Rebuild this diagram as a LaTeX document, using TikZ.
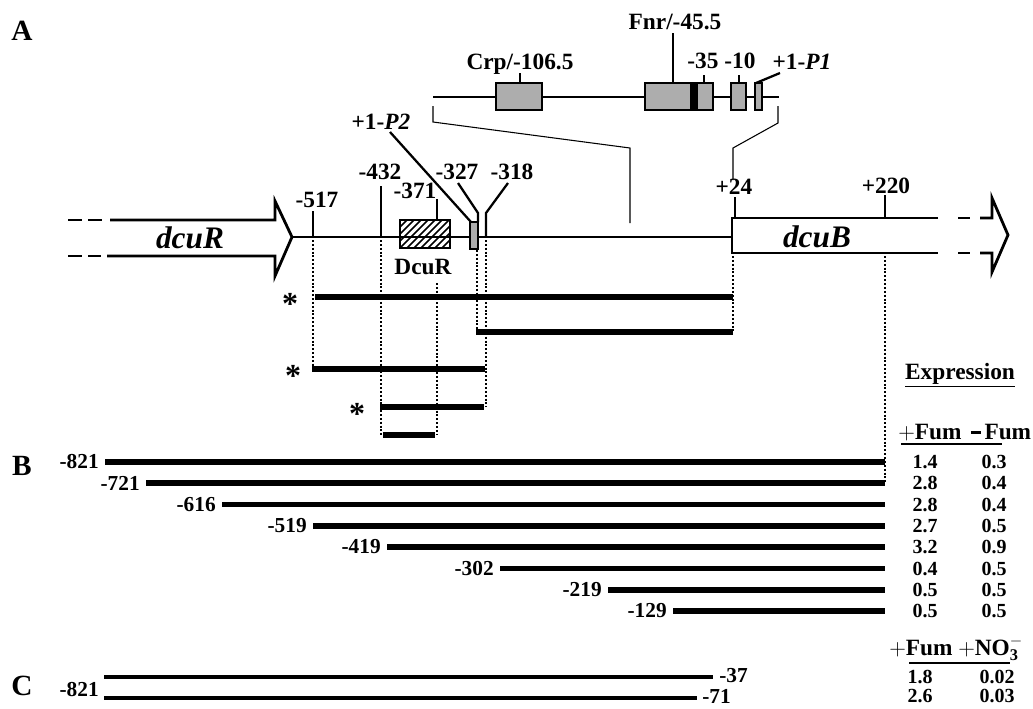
\documentclass[tikz,border=0pt]{standalone}
\usepackage{fontspec}
\setmainfont{Liberation Serif}
\begin{document}
\begin{tikzpicture}[x=0.75pt,y=-0.75pt,
  lbl/.style={font=\fontsize{17.5}{19}\selectfont\bfseries, inner sep=0pt},
  sml/.style={font=\fontsize{16}{18}\selectfont\bfseries, inner sep=0pt},
  val/.style={font=\fontsize{15}{17}\selectfont\bfseries, inner sep=0pt},
  genelbl/.style={font=\fontsize{23.5}{26}\selectfont\bfseries\itshape, inner sep=0pt},
  panel/.style={font=\fontsize{22}{24}\selectfont\bfseries, inner sep=0pt},
  star/.style={font=\fontsize{24}{26}\selectfont\bfseries, inner sep=0pt},
  dna/.style={line width=1.7pt},
  outl/.style={line width=2.1pt},
  tk/.style={line width=1.7pt},
  thinline/.style={line width=0.8pt},
  site/.style={draw, line width=2pt, fill=black!32},
  frag/.style={line width=3.9pt},
  fragB/.style={line width=4.4pt},
  fragC/.style={line width=3.3pt},
  dotline/.style={line width=1.7pt, dash pattern=on 1.5pt off 1.4pt},
]
\useasboundingbox (0,0) rectangle (1033,708);

% panel letters
\node[panel] (pA) at (22,31) {A};
\node[panel] (pB) at (22,466) {B};
\node[panel] (pC) at (22,686) {C};

% ---------- dcuR arrow ----------
\draw[outl] (68,220) -- (82,220) (88,220) -- (102,220);
\draw[outl] (68,256) -- (82,256) (88,256) -- (101,256);
\draw[outl,line join=miter] (110,220) -- (275,220) -- (275,201) -- (292,237) -- (275,276) -- (275,256) -- (107,256);
\coordinate (rTip) at (292,237);
\node[genelbl] (dcuR) at (190,238) {dcuR};

% ---------- dcuB ----------
\coordinate (bStart) at (732,237);
\draw[dna] (rTip) -- (bStart);
\draw[outl,line join=miter] (938,218) -- (732,218) -- (732,253) -- (938,253);
\draw[outl] (958,218) -- (970,218) (958,253) -- (970,253);
\draw[outl,line join=miter] (980,218) -- (992,218) -- (992,198) -- (1008,235) -- (992,272) -- (992,253) -- (980,253);
\node[genelbl] (dcuB) at (817,237) {dcuB};

% ticks on main map
\node[lbl] (l24) at (734,187) {+24};
\draw[tk] (735,218) -- (735,197);
\node[lbl] (l220) at (886,186) {+220};
\draw[tk] (885,218) -- (885,195);
\node[lbl] (l517) at (317,200) {-517};
\draw[tk] (313,237) -- (313,211);
\node[lbl] (l432) at (380,172) {-432};
\draw[tk] (381,237) -- (381,186);

% DcuR site (hatched)
\begin{scope}
  \clip (400,220) rectangle (450,248);
  \foreach \i in {372,379,...,452} \draw[line width=1.3pt] (\i,248) -- ++(28,-28);
\end{scope}
\draw[line width=2pt] (400,220) rectangle (450,248);
\draw[tk] (437,220) -- (437,199);
\node[lbl] (l371) at (415,191) {-371};
\node[lbl] (ldcur) at (423,267) {DcuR};

% P2 site
\draw[site] (470,222) rectangle (478,249);
\node[lbl] (lP2) at (381,122) {+1-\textit{P2}};
\coordinate (p2a) at (390,132);
\coordinate (p2b) at (471,222);
\draw[tk] (p2a) -- (p2b);
\node[lbl] (l327) at (457,172) {-327};
\draw[tk] (458,183) -- (478,213) -- (478,222);
\node[lbl] (l318) at (512,172) {-318};
\draw[tk] (508,183) -- (486,213) -- (486,237);

% ---------- inset ----------
\draw[line width=2.2pt] (433,97) -- (779,97);
\draw[site] (496,83) rectangle (542,110);
\draw[tk] (520,83) -- (520,73);
\node[lbl] (lcrp) at (520,64) {Crp/-106.5};
\draw[site] (645,83) rectangle (697,110);
\fill (690,83) rectangle (697,110);
\draw[site] (697,83) rectangle (713,110);
\draw[tk] (673,83) -- (673,33);
\node[lbl] (lfnr) at (675,22) {Fnr/-45.5};
\draw[tk] (704,83) -- (704,75);
\node[lbl] (l35) at (703,61) {-35};
\draw[site] (731,83) rectangle (746,110);
\draw[tk] (739,83) -- (739,75);
\node[lbl] (l10) at (740,61) {-10};
\draw[site] (755,83) rectangle (762,110);
\draw[tk] (756,83) -- (780,73);
\node[lbl] (lP1) at (802,62) {+1-\textit{P1}};

% inset connectors
\draw[thinline] (433,106) -- (433,122) -- (630,148) -- (630,223);
\draw[thinline] (778,106) -- (778,123) -- (733,148) -- (733,180);

% ---------- deletion fragments ----------
\node[star] (s1) at (290,304) {*};
\draw[frag] (315,297) -- (733,297);
\draw[frag] (476,332) -- (733,332);
\node[star] (s2) at (293,376) {*};
\draw[frag] (312,369) -- (485,369);
\node[star] (s3) at (357,414) {*};
\draw[frag] (380,407) -- (484,407);
\draw[frag] (383,435) -- (435,435);

% dotted guides
\draw[dotline] (313,240) -- (313,369);
\draw[dotline] (381,240) -- (381,435);
\draw[dotline] (437,283) -- (437,435);
\draw[dotline] (477,250) -- (477,332);
\draw[dotline] (486,240) -- (486,407);
\draw[dotline] (733,256) -- (733,332);
\draw[dotline] (885,256) -- (885,483);

% ---------- panel B ----------
\foreach \s/\y/\t [count=\k] in {105/462/-821, 146/483/-721, 222/504.5/-616, 313/526/-519, 387/547/-419, 500/568.5/-302, 608/590/-219, 673/611/-129} {
  \coordinate (bs\k) at (\s,\y);
  \coordinate (be\k) at (885,\y);
  \draw[fragB] (bs\k) -- (be\k);
  \node[sml, anchor=east] (bl\k) at ([xshift=-4.5]bs\k) {\t};
}

% table B
\node[lbl] (expr) at (960,375) {\underline{Expression}};
\node[lbl, anchor=base] (hf1) at (930,439) {$+$Fum};
\node[lbl, anchor=base] (hf2) at (1001,439) {\rule[0.22em]{0.42em}{0.13em}\,Fum};
\draw[thinline] (901,444) -- (1002,444);
\foreach \a/\b/\y [count=\k] in {1.4/0.3/462, 2.8/0.4/483, 2.8/0.4/504.5, 2.7/0.5/526, 3.2/0.9/547, 0.4/0.5/568.5, 0.5/0.5/590, 0.5/0.5/611} {
  \node[val] (va\k) at (925,\y) {\a};
  \node[val] (vb\k) at (994,\y) {\b};
}

% ---------- panel C ----------
\coordinate (cs1) at (104,677);
\coordinate (ce1) at (713,677);
\coordinate (cs2) at (104,698);
\coordinate (ce2) at (697,698);
\draw[fragC] (cs1) -- (ce1);
\draw[fragC] (cs2) -- (ce2);
\node[sml, anchor=east] (c821) at (99,689) {-821};
\node[sml, anchor=west] (c37) at (719,676) {-37};
\node[sml, anchor=west] (c71) at (702,696) {-71};

\node[lbl, anchor=base] (hc1) at (921,655) {$+$Fum};
\node[lbl, anchor=base west] (hc2) at (958,655) {$+$NO$_{\mathbf 3}^{\mathbf -}$};
\draw[thinline] (909,663) -- (1010,663);
\node[val] (cv1a) at (920,677) {1.8};
\node[val] (cv1b) at (997,677) {0.02};
\node[val] (cv2a) at (920,696) {2.6};
\node[val] (cv2b) at (997,696) {0.03};
\end{tikzpicture}
\end{document}
